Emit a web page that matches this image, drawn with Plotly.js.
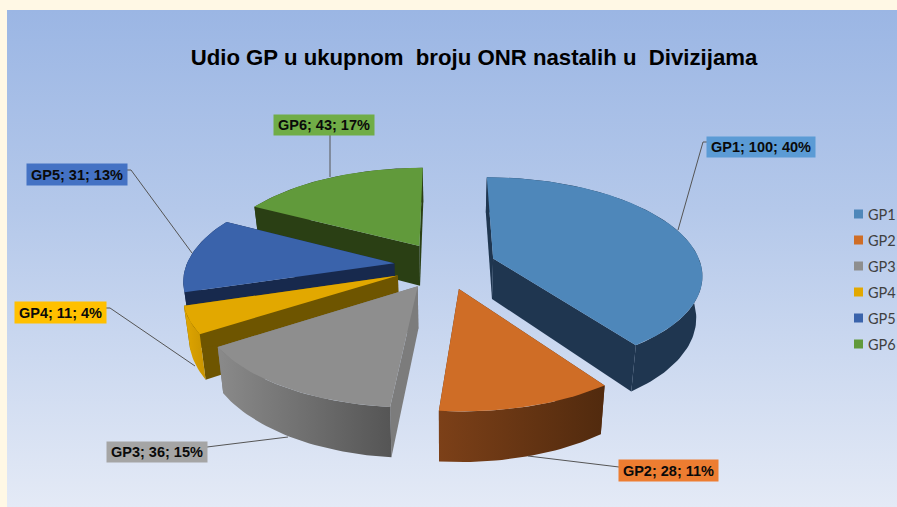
<!DOCTYPE html>
<html><head><meta charset="utf-8">
<script src="https://cdn.plot.ly/plotly-3.0.1.min.js"></script>
<style>
html,body{margin:0;padding:0;width:897px;height:507px;overflow:hidden;background:#fff8e5}
#bg{position:absolute;left:7px;top:10px;width:890px;height:497px;background:linear-gradient(180deg,#9bb6e4 0%,#b4c8ea 40%,#e4eaf6 100%)}
#chart{position:absolute;left:0;top:0;width:897px;height:507px}
</style></head><body>
<div id="bg"></div><div id="chart"></div>
<script>
const categories = ['GP1','GP2','GP3','GP4','GP5','GP6'];
const values = [100,28,36,11,31,43];
const shownPct = [40,11,15,4,13,17];
const topColors = ['#4e87ba','#cf6d26','#8e8e8e','#e2a800','#3a63ab','#619a3b'];
const sideColors = ['#1f3650','#5c2e10','#7c7c7c','#6e5500','#17294d','#2a3f14'];
const rimLeft = ['#1f3650','#7c4018','#8a8a8a','#e0a600','#17294d','#2a3f14'];
const rimRight = ['#1f3650','#512a0e','#555555','#c99400','#17294d','#2a3f14'];
const labelFill = ['#5b9bd5','#ed7d31','#a5a5a5','#ffc000','#4472c4','#70ad47'];
const drawOrder = [5,4,3,2,0,1];

const view = {vx:445, cy:265.5, R:208, k:0.153, A:625, depth:41, pull:0.2457, converge:0.024};
const total = values.reduce((a,b)=>a+b,0);
function project(X,Z,d){
  const w = 1/(1+view.k*Z);
  const squeeze = 1 - view.converge*d/view.depth;
  return [view.vx + view.R*X*w*squeeze, view.cy - view.A + (view.A+d)*w];
}
const traces = [];
function poly(name,pts,color,grad){
  const t = {type:'scatter',mode:'lines',name,x:pts.map(p=>p[0]),y:pts.map(p=>p[1]),
    fill:'toself',fillcolor:color,line:{width:0,color:color},hoverinfo:'skip',showlegend:false};
  if(grad) t.fillgradient = grad;
  traces.push(t);
}
let cum = 0;
const slices = values.map(v=>{const a=cum/total*2*Math.PI; cum+=v; return {a0:a,a1:cum/total*2*Math.PI};});
drawOrder.forEach(i=>{
  const {a0,a1} = slices[i], mid=(a0+a1)/2;
  const ox = view.pull*Math.sin(mid), oz = view.pull*Math.cos(mid);
  const n = Math.max(8,Math.round((a1-a0)*40));
  const arc=[];
  for(let j=0;j<=n;j++){const t=a0+(a1-a0)*j/n; arc.push([ox+Math.sin(t),oz+Math.cos(t)]);}
  const top = arc.map(p=>project(p[0],p[1],0));
  const bot = arc.map(p=>project(p[0],p[1],view.depth));
  const aT = project(ox,oz,0), aB = project(ox,oz,view.depth);
  poly(categories[i]+' cut',[aT,top[0],bot[0],aB,aT],sideColors[i]);
  poly(categories[i]+' cut',[aT,top[n],bot[n],aB,aT],sideColors[i]);
  const rim = top.concat(bot.slice().reverse()); rim.push(top[0]);
  const xs = rim.map(p=>p[0]);
  poly(categories[i]+' rim',rim,rimLeft[i],{type:'horizontal',start:Math.min(...xs),stop:Math.max(...xs),
    colorscale:[[0,rimLeft[i]],[1,rimRight[i]]]});
  poly(categories[i],[aT].concat(top,[aT]),topColors[i]);
});

// leader lines
const leaders = [
  [[678,230],[703,142],[707,142]],
  [[528,456],[619,467]],
  [[288,437],[207,447]],
  [[195,366],[110,308],[106,308]],
  [[192,253],[131,170],[127,170]],
  [[330,177],[330,135]]
];
const shapes = leaders.map(l=>({type:'path',xref:'x',yref:'y',
  path:'M'+l.map(p=>p.join(' ')).join(' L '),line:{color:'#555',width:1}}));

// data labels
const boxes = [[707,815,137,157],[619,718,460,481],[107,207,442,462],[15,106,302,323],[27,127,164,185],[274,374,115,135]];
const annotations = categories.map((c,i)=>{
  const b=boxes[i];
  return {x:(b[0]+b[1])/2,y:(b[2]+b[3])/2,xref:'x',yref:'y',showarrow:false,
    text:'<b>'+c+'; '+values[i]+'; '+shownPct[i]+'%</b>',
    width:b[1]-b[0],height:b[3]-b[2],bgcolor:labelFill[i],borderpad:0,xanchor:'center',yanchor:'middle',
    font:{family:'Liberation Sans',size:14.5,color:'#0a0a0a'}};
});

// legend keys
const keyY = [214,240,266,292,318,344];
const keyTraces = categories.map((c,i)=>({type:'scatter',mode:'markers',name:c,x:[858.5],y:[keyY[i]],
  marker:{symbol:'square',size:9,color:topColors[i]},hoverinfo:'skip',showlegend:false,cliponaxis:false}));
traces.push(...keyTraces);
categories.forEach((c,i)=>annotations.push({x:867,y:keyY[i],xref:'x',yref:'y',showarrow:false,text:c,
  xanchor:'left',yanchor:'middle',borderpad:0,font:{family:'Lato',size:14.5,color:'#404040'}}));

const layout = {
  width:897,height:507,margin:{l:0,r:0,t:0,b:0},
  paper_bgcolor:'rgba(0,0,0,0)',plot_bgcolor:'rgba(0,0,0,0)',showlegend:false,
  title:{text:'<b>Udio GP u ukupnom  broju ONR nastalih u  Divizijama</b>',x:474/897,xanchor:'center',y:1-57/507,yanchor:'middle',
    font:{family:'Liberation Sans',size:22.2,color:'#000'}},
  xaxis:{range:[0,897],visible:false,fixedrange:true},
  yaxis:{range:[507,0],visible:false,fixedrange:true},
  shapes,annotations
};
Plotly.newPlot('chart',traces,layout,{displayModeBar:false,staticPlot:true});
</script></body></html>
